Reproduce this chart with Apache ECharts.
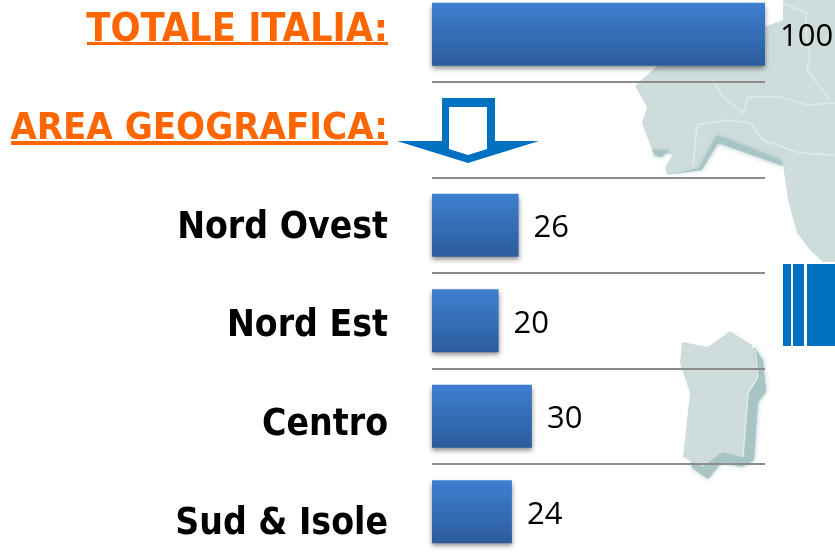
<!DOCTYPE html>
<html>
<head>
<meta charset="utf-8">
<style>
  html, body { margin: 0; padding: 0; background: #fff; }
  #chart { width: 835px; height: 558px; }
</style>
<script src="https://cdn.jsdelivr.net/npm/echarts@6/dist/echarts.min.js"></script>
</head>
<body>
<div id="chart"></div>
<script>
  // righe del grafico
  const categories = ['TOTALE ITALIA:', 'AREA GEOGRAFICA:', 'Nord Ovest', 'Nord Est', 'Centro', 'Sud & Isole']
  const values = [100, null, 26, 20, 30, 24]

  const labelFont = '"DejaVu Sans Condensed", "DejaVu Sans", sans-serif'
  const mapColor = '#cfdcdc'
  const mapShadow = '#a9c4c5'
  const blue = '#0070c0'
  const orange = '#ff6600'

  // sagome di sfondo (solo decorazione)
  const bg = (shape, type, style) => ({type: type, z: -10, shape: shape, style: style, silent: true})
  const poly = (points, fill) => bg({points: points}, 'polygon', {fill: fill})
  const soft = (points) => bg({points: points}, 'polygon', {fill: mapShadow, shadowColor: mapShadow, shadowBlur: 5})
  const border = (points) => bg({points: points}, 'polyline', {stroke: '#e1eaea', fill: null, lineWidth: 1.5})
  const rect = (x, y, width, height, fill) => bg({x: x, y: y, width: width, height: height}, 'rect', {fill: fill})

  const italy = [[783, 0], [835, 0], [835, 262], [823, 262], [810, 250], [797, 233], [788, 200], [783, 165], [717, 135], [700, 170], [667, 175], [665, 168], [672, 155], [652, 150], [642, 123], [647, 107], [635, 86], [657, 66], [783, 20]]
  const coastShadow = [[717, 135], [781, 160], [783, 166], [718, 143], [702, 170], [668, 175], [699, 168]]
  const gulf = [[652, 150], [670, 150], [662, 157], [655, 156]]
  const sardiniaShadow = [[754, 347], [763, 360], [766, 392], [758, 402], [754, 460], [742, 467], [722, 462], [708, 479], [692, 468], [692, 450], [740, 450]]
  const sardinia = [[682, 342], [708, 347], [730, 331], [752, 345], [758, 377], [748, 393], [743, 457], [722, 452], [703, 467], [683, 457], [690, 393], [680, 363]]

  const decorations = [
    poly(italy, mapColor),
    soft(coastShadow),
    soft(gulf),
    border([[783, 3], [806, 13], [806, 33], [810, 57], [807, 70], [830, 100]]),
    border([[713, 80], [723, 97], [743, 113], [748, 97], [780, 97], [807, 105], [835, 103]]),
    border([[693, 167], [697, 125], [727, 120], [750, 123], [763, 140], [800, 153], [835, 155]]),
    soft(sardiniaShadow),
    poly(sardinia, mapColor),
    border([[755, 350], [758, 377], [748, 393], [743, 457]]),
    rect(783, 264, 8, 82, blue),
    rect(793, 264, 11, 82, blue),
    rect(807, 264, 28, 82, blue),
    // freccia
    poly([[442, 98], [495, 98], [495, 141], [539, 141], [468, 163], [397, 141], [442, 141]], blue),
    poly([[449, 107], [487, 107], [487, 149], [468, 155], [449, 149]], '#ffffff'),
    // sottolineature dei titoli
    {type: 'rect', shape: {x: 87, y: 42, width: 301, height: 3}, style: {fill: orange}, silent: true},
    {type: 'rect', shape: {x: 11, y: 141, width: 377, height: 4}, style: {fill: orange}, silent: true}
  ]

  const labelStyle = (size, color) => ({fontFamily: labelFont, fontWeight: 'bold', fontSize: size, color: color})

  const chart = echarts.init(document.getElementById('chart'))
  chart.setOption({
    animation: false,
    backgroundColor: '#ffffff',
    graphic: {elements: decorations},
    grid: [
      {left: 432, width: 333, top: -13.5, height: 573, outerBoundsMode: 'none'},
      // le etichette hanno un passo leggermente diverso dalle barre
      {left: 432, width: 333, top: -19, height: 592.8, outerBoundsMode: 'none'}
    ],
    xAxis: [
      {gridIndex: 0, type: 'value', min: 0, max: 100, show: false},
      {gridIndex: 1, type: 'value', min: 0, max: 100, show: false}
    ],
    yAxis: [
      {
        gridIndex: 0,
        type: 'category',
        inverse: true,
        data: categories,
        axisLine: {show: false},
        axisTick: {show: false},
        axisLabel: {show: false},
        splitLine: {show: true, lineStyle: {color: '#8c8c8c', width: 2}}
      },
      {
        gridIndex: 1,
        type: 'category',
        inverse: true,
        data: categories,
        axisLine: {show: false},
        axisTick: {show: false},
        splitLine: {show: false},
        axisLabel: {
          margin: 44,
          interval: 0,
          formatter: (value, index) => {
            if (index === 0) return '{t|' + value + '}'
            if (index === 1) return '{a|' + value + '}'
            return '{n|' + value + '}'
          },
          rich: {
            t: labelStyle(39.4, orange),
            a: labelStyle(38, orange),
            n: labelStyle(37, '#000000')
          }
        }
      }
    ],
    series: [{
      type: 'bar',
      xAxisIndex: 0,
      yAxisIndex: 0,
      data: values,
      barWidth: 63,
      itemStyle: {
        color: new echarts.graphic.LinearGradient(0, 0, 0, 1, [
          {offset: 0, color: '#3f7fd0'},
          {offset: 1, color: '#2c5c9c'}
        ]),
        shadowColor: 'rgba(0,0,0,0.45)',
        shadowBlur: 5,
        shadowOffsetY: 3
      },
      label: {
        show: true,
        position: 'right',
        distance: 15,
        offset: [0, 3],
        fontFamily: '"Open Sans", sans-serif',
        fontSize: 31,
        color: '#000000'
      }
    }]
  })
</script>
</body>
</html>
